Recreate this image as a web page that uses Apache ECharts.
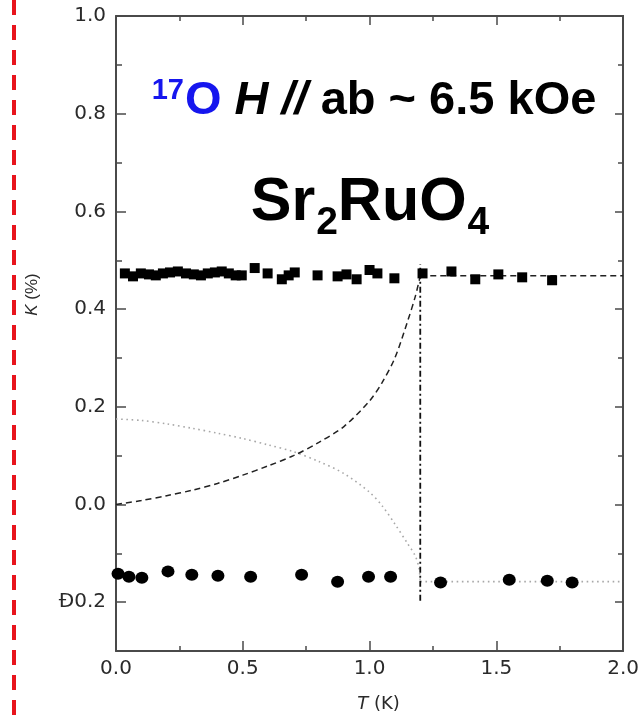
<!DOCTYPE html>
<html>
<head>
<meta charset="utf-8">
<script src="https://cdn.jsdelivr.net/npm/echarts@6/dist/echarts.min.js"></script>
<style>
  html, body { margin: 0; padding: 0; background: #fff; }
  #chart { width: 642px; height: 719px; }
</style>
</head>
<body>
<div id="chart"></div>
<script>
// Knight shift K (%) of 17O in Sr2RuO4, H // ab ~ 6.5 kOe
const squareT = [0.035, 0.067, 0.098, 0.130, 0.157, 0.185, 0.213, 0.244, 0.276, 0.307, 0.335,
                 0.362, 0.390, 0.417, 0.445, 0.472, 0.496, 0.547, 0.598, 0.654, 0.681, 0.705,
                 0.795, 0.874, 0.909, 0.949, 1.000, 1.031, 1.098, 1.209, 1.323, 1.417, 1.508,
                 1.602, 1.720];
const squareK = [0.473, 0.467, 0.473, 0.471, 0.469, 0.473, 0.475, 0.477, 0.473, 0.471, 0.469,
                 0.473, 0.475, 0.477, 0.473, 0.469, 0.469, 0.484, 0.473, 0.461, 0.469, 0.475,
                 0.469, 0.467, 0.471, 0.461, 0.480, 0.473, 0.463, 0.473, 0.477, 0.461, 0.471,
                 0.465, 0.459];

const circleT = [0.008, 0.051, 0.102, 0.205, 0.299, 0.402, 0.531, 0.732, 0.874, 0.996, 1.083,
                 1.280, 1.551, 1.701, 1.799];
const circleK = [-0.142, -0.148, -0.150, -0.137, -0.144, -0.146, -0.148, -0.144, -0.158, -0.148,
                 -0.148, -0.160, -0.154, -0.156, -0.160];

// dashed superconducting-state curve
const dashT = [0.0, 0.1, 0.2, 0.3, 0.4, 0.5, 0.6, 0.7, 0.8, 0.9, 1.0, 1.05, 1.1, 1.15, 1.18, 1.2];
const dashK = [0.0, 0.008, 0.018, 0.029, 0.043, 0.060, 0.079, 0.100, 0.127, 0.160, 0.212, 0.250,
               0.300, 0.375, 0.425, 0.468];
// dashed normal-state level
const dashNormT = [1.2, 2.0];
const dashNormK = [0.468, 0.468];

// dotted curve
const dotT = [0.0, 0.1, 0.2, 0.3, 0.4, 0.5, 0.6, 0.7, 0.8, 0.9, 1.0, 1.05, 1.1, 1.15, 1.18, 1.195, 1.2];
const dotK = [0.175, 0.172, 0.165, 0.156, 0.146, 0.135, 0.122, 0.108, 0.088, 0.063, 0.025, -0.003,
              -0.040, -0.080, -0.105, -0.130, -0.158];
const dotNormT = [1.2, 2.0];
const dotNormK = [-0.158, -0.158];

// Tc marker
const tcT = [1.2, 1.2];
const tcK = [-0.197, 0.492];

const xTickLabels = ['0.0', '0.5', '1.0', '1.5', '2.0'];
const yTickLabels = ['\u00D00.2', '0.0', '0.2', '0.4', '0.6', '0.8', '1.0'];

const zip = (a, b) => a.map((v, i) => [v, b[i]]);

const FONT = '"Liberation Sans", Arial, sans-serif';
const TICK_FONT = '"DejaVu Sans", sans-serif';
const AXIS_COLOR = '#4a4a4a';
const LABEL_COLOR = '#2a2a2a';

const tickStyle = { color: AXIS_COLOR, width: 1.5 };
const frameLine = { show: true, onZero: false, lineStyle: { color: AXIS_COLOR, width: 2 } };

const chart = echarts.init(document.getElementById('chart'), null, { renderer: 'canvas' });

chart.setOption({
  animation: false,
  backgroundColor: '#ffffff',
  grid: [
    { left: 116, right: 18, top: 16, bottom: 68 },
    // same scale, spanning -0.2 .. 1.0, carries the labelled K ticks
    { left: 116, right: 18, top: 16, bottom: 116.8 }
  ],
  xAxis: [
    {
      gridIndex: 0, type: 'value', min: 0, max: 2, interval: 0.5, position: 'bottom',
      axisLine: frameLine,
      axisTick: { show: true, inside: true, length: 10, lineStyle: tickStyle },
      minorTick: { show: true, splitNumber: 2, length: 5, lineStyle: tickStyle },
      splitLine: { show: false },
      axisLabel: {
        margin: 8, color: LABEL_COLOR, fontSize: 20, fontFamily: TICK_FONT,
        formatter: (v, i) => xTickLabels[i]
      },
      name: '{i|T} (K)', nameLocation: 'middle', nameGap: 44,
      nameTextStyle: {
        color: LABEL_COLOR, fontSize: 18, fontFamily: TICK_FONT, padding: [0, 0, 0, 18],
        rich: { i: { fontStyle: 'italic', fontSize: 18, fontFamily: TICK_FONT, color: LABEL_COLOR } }
      }
    },
    {
      gridIndex: 0, type: 'value', min: 0, max: 2, interval: 0.5, position: 'top',
      axisLine: frameLine,
      axisTick: { show: true, inside: true, length: 9, lineStyle: tickStyle },
      minorTick: { show: true, splitNumber: 2, length: 5, lineStyle: tickStyle },
      splitLine: { show: false }, axisLabel: { show: false }
    },
    { gridIndex: 1, type: 'value', min: 0, max: 2, show: false, axisLine: { onZero: false } }
  ],
  yAxis: [
    {
      gridIndex: 0, type: 'value', min: -0.3, max: 1.0, position: 'left',
      axisLine: frameLine,
      axisTick: { show: false }, axisLabel: { show: false }, splitLine: { show: false },
      name: '{i|K} (%)', nameLocation: 'middle', nameGap: 75,
      nameTextStyle: {
        color: LABEL_COLOR, fontSize: 17, fontFamily: FONT, padding: [0, 0, 0, 78],
        rich: { i: { fontStyle: 'italic', fontSize: 17, fontFamily: FONT, color: LABEL_COLOR } }
      }
    },
    {
      gridIndex: 0, type: 'value', min: -0.3, max: 1.0, position: 'right',
      axisLine: frameLine,
      axisTick: { show: false }, axisLabel: { show: false }, splitLine: { show: false }
    },
    {
      gridIndex: 1, type: 'value', min: -0.2, max: 1.0, interval: 0.2, position: 'left',
      axisLine: { show: false, onZero: false },
      axisTick: { show: true, inside: true, length: 10, lineStyle: tickStyle },
      minorTick: { show: true, splitNumber: 2, length: 6, lineStyle: tickStyle },
      splitLine: { show: false },
      axisLabel: {
        margin: 10, color: LABEL_COLOR, fontSize: 20, fontFamily: TICK_FONT,
        formatter: (v, i) => yTickLabels[i]
      }
    },
    {
      gridIndex: 1, type: 'value', min: -0.2, max: 1.0, interval: 0.2, position: 'right',
      axisLine: { show: false, onZero: false },
      axisTick: { show: true, inside: true, length: 9, lineStyle: tickStyle },
      minorTick: { show: true, splitNumber: 2, length: 6, lineStyle: tickStyle },
      splitLine: { show: false }, axisLabel: { show: false }
    }
  ],
  series: [
    {
      type: 'line', xAxisIndex: 0, yAxisIndex: 0, data: zip(dotT, dotK), smooth: 0.3,
      symbol: 'none',
      lineStyle: { color: '#a8a8a8', width: 1.6, type: [1.6, 3.6] }, z: 2
    },
    {
      type: 'line', xAxisIndex: 0, yAxisIndex: 0, data: zip(dotNormT, dotNormK),
      symbol: 'none', lineStyle: { color: '#a8a8a8', width: 1.6, type: [1.6, 3.6] }, z: 2
    },
    {
      type: 'line', xAxisIndex: 0, yAxisIndex: 0, data: zip(dashT, dashK), smooth: 0.3,
      symbol: 'none', lineStyle: { color: '#222', width: 1.5, type: [6, 4] }, z: 3
    },
    {
      type: 'line', xAxisIndex: 0, yAxisIndex: 0, data: zip(dashNormT, dashNormK),
      symbol: 'none', lineStyle: { color: '#222', width: 1.5, type: [6, 4] }, z: 3
    },
    {
      type: 'line', xAxisIndex: 0, yAxisIndex: 0, data: zip(tcT, tcK),
      symbol: 'none', lineStyle: { color: '#111', width: 1.8, type: [6, 3, 2, 3] }, z: 3
    },
    {
      type: 'scatter', xAxisIndex: 0, yAxisIndex: 0, data: zip(squareT, squareK),
      symbol: 'rect', symbolSize: 10, itemStyle: { color: '#000', opacity: 1 }, z: 5
    },
    {
      type: 'scatter', xAxisIndex: 0, yAxisIndex: 0, data: zip(circleT, circleK),
      symbol: 'circle', symbolSize: [13, 12], itemStyle: { color: '#000', opacity: 1 }, z: 5
    }
  ],
  graphic: [
    {
      type: 'line', silent: true,
      shape: { x1: 14, y1: 0, x2: 14, y2: 719 },
      style: { stroke: '#e8141c', lineWidth: 4, lineDash: [15, 10] }
    },
    {
      type: 'text', silent: true, x: 374, y: 101, z: 10,
      style: {
        text: '{sup|17}{o|O}{hi| H //}{b| ab ~ 6.5 kOe}',
        align: 'center', verticalAlign: 'middle',
        fontFamily: FONT, fontWeight: 'bold', fontSize: 47,
        rich: {
          sup: { fontFamily: FONT, fontWeight: 'bold', fontSize: 29, fill: '#1616ee', padding: [0, 1, 20, 0] },
          o:   { fontFamily: FONT, fontWeight: 'bold', fontSize: 47, fill: '#1616ee' },
          hi:  { fontFamily: FONT, fontWeight: 'bold', fontStyle: 'italic', fontSize: 47, fill: '#000' },
          b:   { fontFamily: FONT, fontWeight: 'bold', fontSize: 47, fill: '#000' }
        }
      }
    },
    {
      type: 'text', silent: true, x: 370, y: 203, z: 10,
      style: {
        text: '{m|Sr}{s|2}{m|RuO}{s|4}',
        align: 'center', verticalAlign: 'middle',
        fontFamily: FONT, fontWeight: 'bold', fontSize: 61,
        rich: {
          m: { fontFamily: FONT, fontWeight: 'bold', fontSize: 61, fill: '#000' },
          s: { fontFamily: FONT, fontWeight: 'bold', fontSize: 39, fill: '#000', padding: [40, 0, 0, 1] }
        }
      }
    }
  ]
});
</script>
</body>
</html>
